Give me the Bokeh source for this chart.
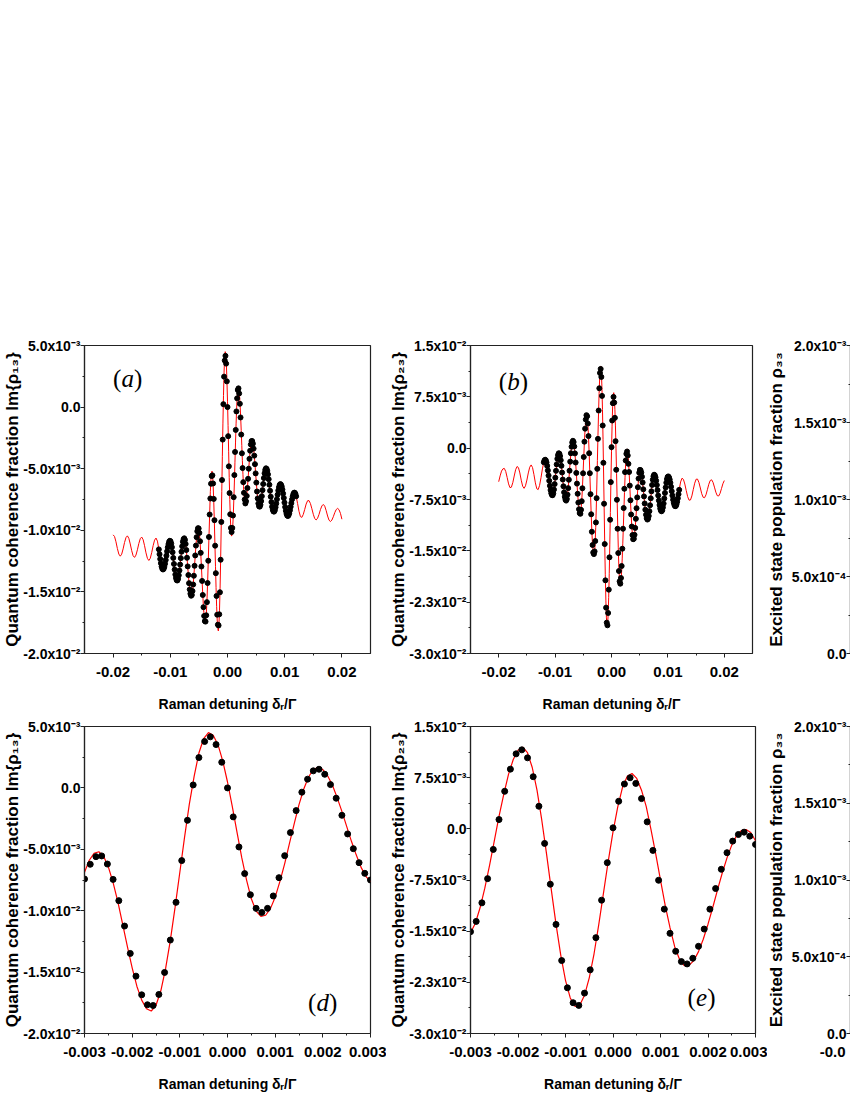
import numpy as np
from bokeh.plotting import figure
from bokeh.layouts import column, row
from bokeh.models import Range1d, FixedTicker, Label, Spacer
from bokeh.embed import file_html
from bokeh.resources import INLINE

# ---------------- sampling grids (Raman detuning, units of Gamma) ----------------
dots_x = np.round(-0.012 + 0.00012 * np.arange(201), 7)      # numerical points
zoom_x = np.round(-0.003 + 0.0001 * np.arange(61), 7)        # analytic curve, zoomed panels
outer_left_x = np.round(-0.020 + 0.00025 * np.arange(32), 7)  # analytic curve beyond the dots
outer_right_x = np.round(0.01225 + 0.00025 * np.arange(32), 7)

# ---------------- Im{rho13}  (values in units of 1e-3) ----------------
im13_dots = [
    -11.55, -11.94, -12.33, -12.67, -12.94, -13.12, -13.18, -13.13, -12.97, -12.72,
    -12.41, -12.06, -11.71, -11.38, -11.12, -10.93, -10.85, -10.89, -11.07, -11.37,
    -11.78, -12.24, -12.73, -13.19, -13.59, -13.88, -14.05, -14.07, -13.94, -13.65,
    -13.26, -12.78, -12.26, -11.74, -11.30, -10.93, -10.72, -10.65, -10.78, -11.11,
    -11.60, -12.23, -12.93, -13.63, -14.29, -14.80, -15.15, -15.31, -15.25, -14.93,
    -14.40, -13.69, -12.88, -12.04, -11.24, -10.56, -10.08, -9.83, -9.85, -10.21,
    -10.89, -11.83, -12.94, -14.11, -15.25, -16.24, -16.95, -17.37, -17.41, -16.90,
    -15.83, -14.28, -12.47, -10.54, -8.72,
    -7.42, -6.22, -5.60, -5.54, -6.20, -7.45, -9.18, -11.25, -13.48, -15.33,
    -16.85, -17.66, -17.72, -16.82, -15.03, -12.39, -9.32, -5.92, -2.64, 0.24,
    2.47, 3.78, 4.16, 3.53, 2.09, 0.00, -2.36, -4.81, -6.98, -8.70,
    -9.81, -10.14, -9.81, -8.80, -7.31, -5.52, -3.64, -1.85, -0.35, 0.71,
    1.39, 1.52, 1.11, 0.27, -0.84, -2.23, -3.75, -4.95, -6.09, -6.96,
    -7.50,
    -7.82, -7.64, -7.21, -6.57, -5.82, -5.00, -4.20, -3.54, -3.03, -2.76,
    -2.76, -2.97, -3.37, -3.94, -4.63, -5.38, -6.13, -6.85, -7.41, -7.82, -8.05,
    -8.08, -7.93, -7.63, -7.23, -6.74, -6.24, -5.76, -5.37, -5.10, -4.97,
    -5.01, -5.18, -5.46, -5.85, -6.30, -6.79, -7.27, -7.71, -8.09, -8.34, -8.47,
    -8.48, -8.36, -8.13, -7.83, -7.48, -7.11, -6.77, -6.50, -6.32, -6.25,
    -6.30, -6.44, -6.69, -7.01, -7.37, -7.75, -8.11, -8.42, -8.66, -8.80,
    -8.84, -8.77, -8.61, -8.37, -8.09, -7.79, -7.49, -7.24, -7.05, -6.95,
    -6.95, -7.05, -7.24,
]
im13_red_zoom = [
    -6.87, -5.89, -5.33, -5.20, -5.57, -6.43, -7.71, -9.28, -11.09, -12.92,
    -14.65, -16.17, -17.28, -17.98, -18.17, -17.70, -16.54, -14.74, -12.43, -9.73,
    -6.87, -3.99, -1.30, 0.94, 2.84, 4.02, 4.50, 4.29, 3.52, 2.20,
    0.48, -1.50, -3.63, -5.70, -7.51, -9.03, -10.03, -10.47, -10.37, -9.83,
    -8.90, -7.61, -6.16, -4.52, -2.91, -1.36, -0.09, 0.89, 1.50, 1.68,
    1.49, 0.99, 0.24, -0.79, -1.91, -3.13, -4.35, -5.45, -6.45, -7.18,
    -7.66,
]
im13_red_left = [
    -10.37, -10.50, -10.93, -11.48, -11.93, -12.10, -11.94, -11.51, -10.99, -10.59,
    -10.45, -10.65, -11.11, -11.65, -12.07, -12.20, -12.01, -11.58, -11.07, -10.68,
    -10.55, -10.76, -11.25, -11.83, -12.28, -12.45, -12.27, -11.81, -11.25, -10.80,
    -10.63, -10.88,
]
im13_red_right = [
    -7.82, -8.46, -8.89, -8.95, -8.71, -8.30, -7.87, -7.60, -7.59, -7.83,
    -8.25, -8.70, -9.05, -9.16, -9.02, -8.71, -8.32, -8.02, -7.90, -8.04,
    -8.40, -8.84, -9.18, -9.29, -9.17, -8.90, -8.57, -8.32, -8.22, -8.33,
    -8.63, -9.10,
]

# ---------------- Im{rho23}  (values in units of 1e-3) ----------------
im23_dots = [
    -2.06, -1.79, -1.69, -1.79, -2.09, -2.59, -3.26, -4.00, -4.77, -5.50,
    -6.12, -6.58, -6.84, -6.87, -6.60, -6.05, -5.25, -4.31, -3.31, -2.37,
    -1.56, -1.02, -0.75, -0.80, -1.15, -1.76, -2.58, -3.56, -4.58, -5.57,
    -6.45, -7.11, -7.53, -7.66, -7.42, -6.79, -5.84, -4.61, -3.29, -1.97,
    -0.74, 0.21, 0.84, 1.08, 0.89, 0.25, -0.76, -2.09, -3.61, -5.18,
    -6.66, -7.95, -8.92, -9.48, -9.59, -9.01, -7.75, -5.86, -3.67, -1.29,
    0.95, 2.85, 4.18, 4.82, 4.66, 3.60, 1.76, -0.74, -3.66, -6.72,
    -9.66, -12.21, -14.15, -15.25, -15.48,
    -15.08, -13.57, -10.85, -7.30, -3.02, 1.36, 5.50, 8.75, 10.99, 11.58,
    10.41, 7.64, 3.31, -2.14, -8.12, -14.01, -19.31, -23.30, -25.49, -25.88,
    -24.08, -20.67, -15.95, -10.46, -4.96, 0.15, 4.04, 6.57, 7.49, 6.66,
    4.43, 1.02, -3.16, -7.54, -11.77, -15.32, -17.95, -19.46, -19.80, -18.97,
    -17.22, -14.69, -11.77, -8.75, -5.93, -3.50, -1.80, -0.83, -0.49, -1.07,
    -2.29,
    -3.48, -5.47, -7.62, -9.69, -11.45, -12.70, -13.30,
    -13.23, -12.66, -11.65, -10.32, -8.77, -7.19, -5.70, -4.44, -3.59, -3.17,
    -3.22, -3.57, -4.18, -5.01, -6.01, -7.05, -8.08, -8.99, -9.73, -10.22, -10.43,
    -10.32, -9.90, -9.21, -8.34, -7.33, -6.31, -5.37, -4.61, -4.10, -3.88,
    -3.96, -4.26, -4.75, -5.39, -6.13, -6.91, -7.65, -8.30, -8.81, -9.13,
    -9.22, -9.07, -8.67, -8.09, -7.34, -6.54, -5.74, -5.05, -4.51, -4.19,
    -4.13, -4.27, -4.59, -5.06, -5.64, -6.28, -6.92, -7.53, -7.99, -8.32, -8.48,
    -8.45, -8.22, -7.84, -7.32, -6.72, -6.09,
]
im23_red_zoom = [
    -15.23, -13.87, -11.61, -8.74, -5.38, -1.79, 1.82, 5.05, 7.98, 10.16,
    11.53, 11.96, 11.16, 8.99, 5.66, 1.30, -3.63, -8.87, -13.97, -18.50,
    -22.20, -24.79, -26.02, -25.86, -24.41, -21.84, -18.35, -14.03, -9.38, -4.72,
    -0.44, 3.21, 6.07, 7.71, 8.11, 7.39, 5.67, 3.25, -0.10, -3.71,
    -7.52, -11.25, -14.49, -17.31, -19.12, -20.06, -20.02, -19.32, -18.00, -16.18,
    -13.98, -11.53, -8.96, -6.47, -4.26, -2.39, -1.02, -0.26, -0.11, -0.54,
    -1.75,
]
im23_red_left = [
    -4.90, -4.05, -3.35, -3.02, -2.96, -3.41, -4.29, -5.22, -5.77, -5.70,
    -5.04, -4.07, -3.15, -2.68, -2.84, -3.62, -4.69, -5.56, -5.87, -5.50,
    -4.66, -3.62, -2.78, -2.45, -2.83, -3.86, -5.07, -5.93, -6.05, -5.44,
    -4.31, -3.03,
]
im23_red_right = [
    -4.94, -4.39, -4.56, -5.24, -6.19, -7.08, -7.60, -7.57, -6.98, -6.04,
    -5.12, -4.54, -4.52, -5.01, -5.82, -6.66, -7.18, -7.24, -6.82, -6.07,
    -5.28, -4.73, -4.62, -4.99, -5.69, -6.43, -6.94, -6.99, -6.60, -5.91,
    -5.20, -4.73,
]

# ---------------- rho33 (only its first few points are inside the picture) ----------------
rho33_x = [-0.003, -0.00295, -0.0029]
rho33_y = [1.46e-3, 1.40e-3, 1.34e-3]

# ---------------- tick labels ----------------
wide_x_ticks = [-0.02, -0.01, 0.0, 0.01, 0.02]
wide_x_labels = ["-0.02", "-0.01", "0.00", "0.01", "0.02"]
zoom_x_ticks = [-0.003, -0.002, -0.001, 0.0, 0.001, 0.002, 0.003]
zoom_x_labels = ["-0.003", "-0.002", "-0.001", "0.000", "0.001", "0.002", "0.003"]
edge_x_labels = ["-0.0", "", "", "", "", "", ""]   # only the cut-off start is visible
y13_ticks = [-0.02, -0.015, -0.01, -0.005, 0.0, 0.005]
y13_labels = ["-2.0x10⁻²", "-1.5x10⁻²", "-1.0x10⁻²", "-5.0x10⁻³", "0.0", "5.0x10⁻³"]
y23_ticks = [-0.03, -0.0225, -0.015, -0.0075, 0.0, 0.0075, 0.015]
y23_labels = ["-3.0x10⁻²", "-2.3x10⁻²", "-1.5x10⁻²", "-7.5x10⁻³", "0.0", "7.5x10⁻³", "1.5x10⁻²"]
y33_ticks = [0.0, 0.0005, 0.001, 0.0015, 0.002]
y33_labels = ["0.0", "5.0x10⁻⁴", "1.0x10⁻³", "1.5x10⁻³", "2.0x10⁻³"]

XLABEL = "Raman detuning δᵣ/Γ"
FONT = "Liberation Sans"


def make_fig(width, height, bl, br, bt, bb, xr, yr, xt, xl, xminor, yt, yl, yminor,
             ylabel, ystand=-2, xlabel=True):
    p = figure(width=width, height=height, x_range=Range1d(*xr), y_range=Range1d(*yr),
               min_border_left=bl, min_border_right=br, min_border_top=bt,
               min_border_bottom=bb, toolbar_location=None, output_backend="svg")
    p.xgrid.visible = False
    p.ygrid.visible = False
    p.outline_line_color = "#222222"
    p.outline_line_width = 1.2
    p.background_fill_color = "white"
    p.border_fill_color = "white"
    xa, ya = p.xaxis[0], p.yaxis[0]
    xa.ticker = FixedTicker(ticks=xt, minor_ticks=xminor)
    xa.major_label_overrides = {t: s for t, s in zip(xt, xl)}
    ya.ticker = FixedTicker(ticks=yt, minor_ticks=yminor)
    ya.major_label_overrides = {t: s for t, s in zip(yt, yl)}
    for ax in (xa, ya):
        ax.major_label_text_font = FONT
        ax.major_label_text_font_style = "bold"
        ax.major_label_text_color = "black"
        ax.axis_label_text_font = FONT
        ax.axis_label_text_font_style = "bold"
        ax.axis_label_text_color = "black"
        ax.axis_line_color = "#222222"
        ax.axis_line_width = 1.2
        ax.major_tick_line_color = "#222222"
        ax.minor_tick_line_color = "#222222"
        ax.major_tick_in = 0
        ax.major_tick_out = 4
        ax.minor_tick_in = 0
        ax.minor_tick_out = 2
    xa.major_label_text_font_size = "15px"
    ya.major_label_text_font_size = "14px"
    xa.major_label_standoff = 9
    if xlabel:
        xa.axis_label = XLABEL
        xa.axis_label_text_font_size = "14px"
        xa.axis_label_standoff = 16
    ya.major_label_standoff = 0
    ya.axis_label = ylabel
    ya.axis_label_text_font_size = "17px"
    ya.axis_label_standoff = ystand
    return p


def panel_label(p, x, y, letter, letter_w):
    common = dict(x=x, y=y, text_font="Liberation Serif", text_font_size="25px",
                  text_baseline="middle", text_align="left", text_color="black")
    p.add_layout(Label(text="(", x_offset=0, **common))
    p.add_layout(Label(text=letter, x_offset=8.5, text_font_style="italic", **common))
    p.add_layout(Label(text=")", x_offset=8.5 + letter_w, **common))


wide_minor = [-0.015, -0.005, 0.005, 0.015]
zoom_minor = [-0.0025, -0.0015, -0.0005, 0.0005, 0.0015, 0.0025]
y13_minor = [-0.0175, -0.0125, -0.0075, -0.0025, 0.0025]
y23_minor = [-0.02625, -0.01875, -0.01125, -0.00375, 0.00375, 0.01125]
y33_minor = [0.00025, 0.00075, 0.00125, 0.00175]


def top_curve(left, dots, zoom, right):
    x = np.concatenate([outer_left_x, dots_x[:75], zoom_x, dots_x[126:], outer_right_x])
    y = np.concatenate([left, dots[:75], zoom, dots[126:], right]) * 1e-3
    return x, y


# ---------------- top row ----------------
pa = make_fig(386, 386, 83, 16, 15, 60, (-0.025, 0.025), (-0.02, 0.005),
              wide_x_ticks, wide_x_labels, wide_minor, y13_ticks, y13_labels, y13_minor,
              "Quantum coherence fraction Im{ρ₁₃}")
xa_, ya_ = top_curve(im13_red_left, im13_dots, im13_red_zoom, im13_red_right)
pa.line(xa_, ya_, line_color="red", line_width=1)
pa.scatter(dots_x, np.array(im13_dots) * 1e-3, size=5, color="black")
panel_label(pa, -0.0200, 0.0023, "a", 12.5)

pb = make_fig(379, 386, 78, 13, 14, 63, (-0.025, 0.025), (-0.03, 0.015),
              wide_x_ticks, wide_x_labels, wide_minor, y23_ticks, y23_labels, y23_minor,
              "Quantum coherence fraction Im{ρ₂₃}")
xb_, yb_ = top_curve(im23_red_left, im23_dots, im23_red_zoom, im23_red_right)
pb.line(xb_, yb_, line_color="red", line_width=1)
pb.scatter(dots_x, np.array(im23_dots) * 1e-3, size=5, color="black")
panel_label(pb, -0.0200, 0.0098, "b", 12.5)

pc = make_fig(85, 386, 82, 0, 15, 63, (-0.025, -0.02474), (0.0, 0.002),
              wide_x_ticks, wide_x_labels, [], y33_ticks, y33_labels, y33_minor,
              "Excited state population fraction ρ₃₃", ystand=3, xlabel=False)

# ---------------- bottom row ----------------
pd = make_fig(386, 384, 82, 16, 10, 67, (-0.003, 0.003), (-0.02, 0.005),
              zoom_x_ticks, zoom_x_labels, zoom_minor, y13_ticks, y13_labels, y13_minor,
              "Quantum coherence fraction Im{ρ₁₃}")
pd.line(zoom_x, np.array(im13_red_zoom) * 1e-3, line_color="red", line_width=1.2)
pd.scatter(dots_x[75:126], np.array(im13_dots[75:126]) * 1e-3, size=6, color="black")
panel_label(pd, 0.00169, -0.01746, "d", 12.5)

pe = make_fig(381, 384, 77, 12, 10, 66, (-0.003, 0.003), (-0.03, 0.015),
              zoom_x_ticks, zoom_x_labels, zoom_minor, y23_ticks, y23_labels, y23_minor,
              "Quantum coherence fraction Im{ρ₂₃}")
pe.line(zoom_x, np.array(im23_red_zoom) * 1e-3, line_color="red", line_width=1.2)
pe.scatter(dots_x[75:126], np.array(im23_dots[75:126]) * 1e-3, size=6, color="black")
panel_label(pe, 0.00157, -0.0247, "e", 11.1)

pf = make_fig(83, 384, 80, 0, 10, 67, (-0.003, -0.00294), (0.0, 0.002),
              zoom_x_ticks, edge_x_labels, [], y33_ticks, y33_labels, y33_minor,
              "Excited state population fraction ρ₃₃", ystand=3, xlabel=False)
pf.line(rho33_x, rho33_y, line_color="red", line_width=1.2)

layout = column(Spacer(width=850, height=330), row(pa, pb, pc), row(pd, pe, pf))
open("out.html", "w").write(file_html(layout, INLINE))
